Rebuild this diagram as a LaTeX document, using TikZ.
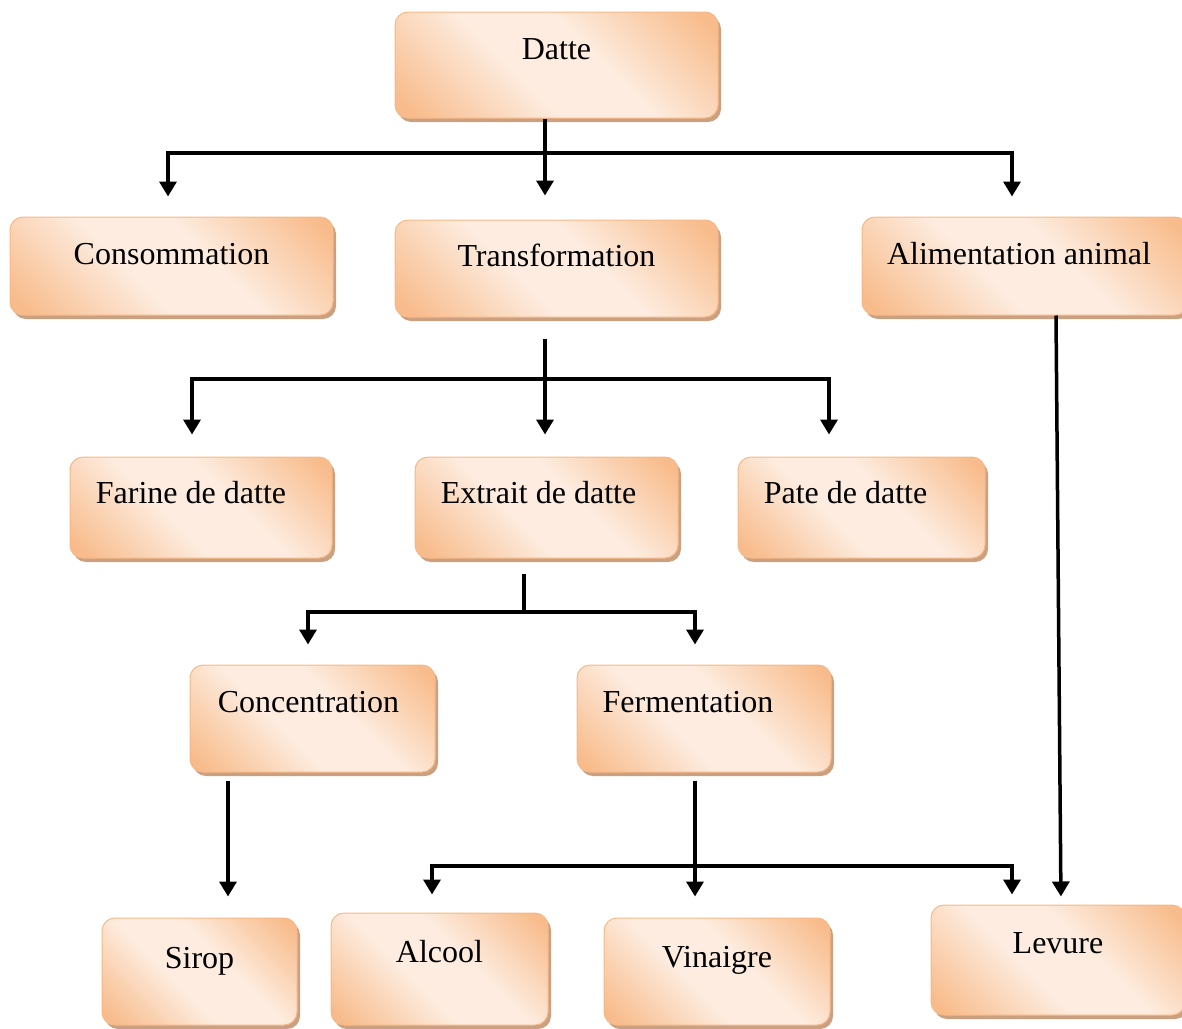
\documentclass[tikz,border=0pt]{standalone}
\usepackage{fontspec}
\setmainfont{Liberation Serif}
\usetikzlibrary{arrows.meta,shadows,calc}
\definecolor{pO}{RGB}{248,188,140}
\definecolor{pL}{RGB}{253,236,223}
\definecolor{pB}{RGB}{246,184,134}
\definecolor{pS}{RGB}{203,160,128}
\pgfdeclarehorizontalshading{peach}{100bp}{color(0bp)=(pO); color(18bp)=(pO); color(42bp)=(pL); color(58bp)=(pL); color(82bp)=(pO); color(100bp)=(pO)}
\begin{document}
\begin{tikzpicture}[x=1pt,y=-1pt,
  box/.style={draw=pB, line width=1pt, rounded corners=13pt, shading=peach, shading angle=45,
    drop shadow={shadow xshift=3pt, shadow yshift=-4pt, fill=pS, opacity=1},
    inner sep=0pt, text height=22pt, font=\fontsize{32}{38}\selectfont},
  ln/.style={line width=3.5pt},
  arr/.style={line width=3.5pt, -{Triangle[length=15pt,width=17pt]}}]
\useasboundingbox (0,0) rectangle (1182,1028);
% boxes
\node[box, minimum width=323pt, minimum height=106pt, text depth=34pt] (datte) at (556.5,65) {Datte};
\node[box, minimum width=323pt, minimum height=98pt, text depth=26pt] (cons) at (171.5,266) {Consommation};
\node[box, minimum width=323pt, minimum height=97pt, text depth=27pt] (trans) at (556.5,268.5) {Transformation};
\node[box, minimum width=326pt, minimum height=98pt, text depth=26pt] (alim) at (1025,266) {Alimentation animal\hspace*{12pt}};
\node[box, minimum width=262pt, minimum height=101pt, text depth=31pt] (farine) at (201,507.5) {Farine de datte\hspace*{20pt}};
\node[box, minimum width=263pt, minimum height=101pt, text depth=31pt] (extrait) at (546.5,507.5) {Extrait de datte\hspace*{16pt}};
\node[box, minimum width=247pt, minimum height=101pt, text depth=31pt] (pate) at (861.5,507.5) {Pate de datte\hspace*{32pt}};
\node[box, minimum width=245pt, minimum height=107pt, text depth=35pt] (conc) at (312.5,718.5) {Concentration\hspace*{8pt}};
\node[box, minimum width=254pt, minimum height=107pt, text depth=35pt] (ferm) at (704,718.5) {Fermentation\hspace*{32pt}};
\node[box, minimum width=195pt, minimum height=107pt, text depth=29pt] (sirop) at (199.5,971.5) {Sirop};
\node[box, minimum width=217pt, minimum height=112pt, text depth=36pt] (alcool) at (439.5,969) {Alcool};
\node[box, minimum width=226pt, minimum height=107pt, text depth=31pt] (vin) at (717,971.5) {Vinaigre};
\node[box, minimum width=254pt, minimum height=110pt, text depth=36pt] (levure) at (1058,960) {Levure};
% junction coordinates
\coordinate (d0) at (545,153);
\coordinate (dL) at (168,153);
\coordinate (dR) at (1012,153);
\coordinate (t0) at (545,379);
\coordinate (tL) at (192,379);
\coordinate (tR) at (829,379);
\coordinate (e0) at (524,612);
\coordinate (eL) at (308,612);
\coordinate (eR) at (695,612);
\coordinate (c0) at (228,866);
\coordinate (f0) at (695,866);
\coordinate (fL) at (432,866);
\coordinate (fR) at (1012,866);
\coordinate (a0) at (1056,600);
\coordinate (a1) at (1061,600);
% Datte level
\draw[ln] ([xshift=-1.75pt]dL) -- ([xshift=1.75pt]dR);
\draw[arr, shorten >=24pt] (d0 |- datte.south) -- (d0 |- trans.north);
\draw[arr, shorten >=20pt] (dL) -- (dL |- cons.north);
\draw[arr, shorten >=20pt] (dR) -- (dR |- alim.north);
% Transformation level
\draw[ln] ([xshift=-1.75pt]tL) -- ([xshift=1.75pt]tR);
\draw[arr, shorten <=21pt, shorten >=22pt] (t0 |- trans.south) -- (t0 |- extrait.north);
\draw[arr, shorten >=22pt] (tL) -- (tL |- farine.north);
\draw[arr, shorten >=22pt] (tR) -- (tR |- pate.north);
% Extrait level
\draw[ln, shorten <=15pt] (e0 |- extrait.south) -- (e0);
\draw[ln] ([xshift=-1.75pt]eL) -- ([xshift=1.75pt]eR);
\draw[arr, shorten >=20pt] (eL) -- (eL |- conc.north);
\draw[arr, shorten >=20pt] (eR) -- (eR |- ferm.north);
% Concentration
\draw[arr, shorten <=8pt, shorten >=21pt] (c0 |- conc.south) -- (c0 |- sirop.north);
% Fermentation
\draw[ln] ([xshift=-1.75pt]fL) -- ([xshift=1.75pt]fR);
\draw[arr, shorten <=8pt, shorten >=21pt] (f0 |- ferm.south) -- (f0 |- vin.north);
\draw[arr, shorten >=18pt] (fL) -- (fL |- alcool.north);
\draw[arr, shorten >=10pt] (fR) -- (fR |- levure.north);
% Alimentation to Levure
\draw[arr, shorten >=8pt] (a0 |- alim.south) -- (a1 |- levure.north);
\end{tikzpicture}
\end{document}
